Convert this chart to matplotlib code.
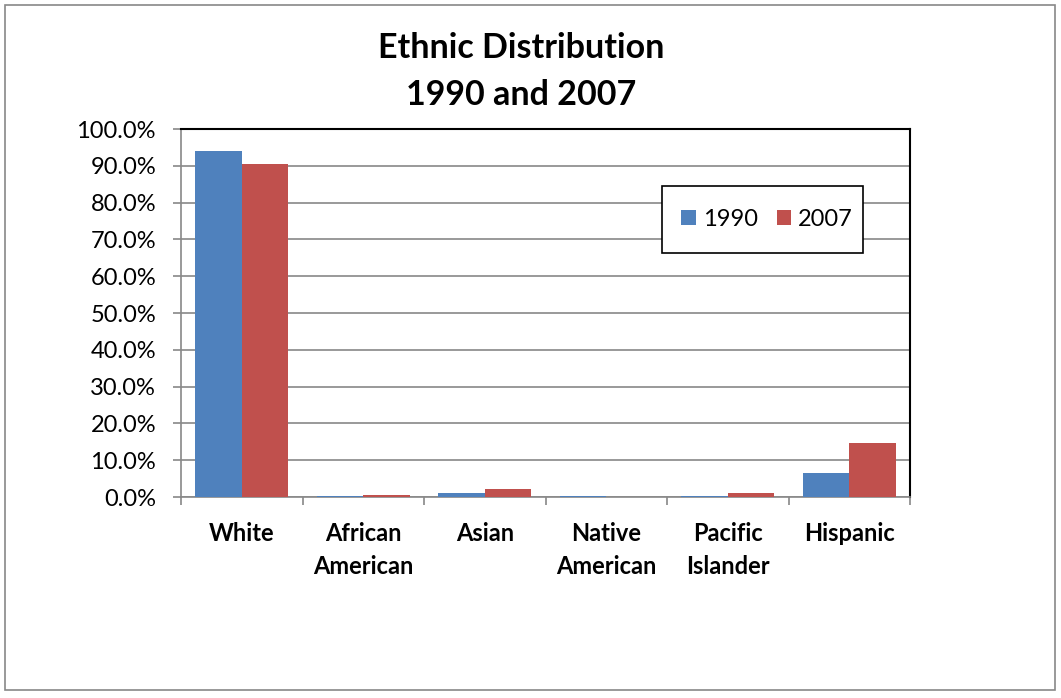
import matplotlib
matplotlib.use("Agg")
import matplotlib.pyplot as plt
import numpy as np
from matplotlib.patches import Rectangle
from matplotlib.ticker import FuncFormatter, MultipleLocator

categories = ["White", "African\nAmerican", "Asian", "Native\nAmerican", "Pacific\nIslander", "Hispanic"]
series_1990 = [94.0, 0.2, 1.2, 0.4, 0.4, 6.4]
series_2007 = [90.5, 0.6, 2.3, 0.1, 1.2, 14.6]
series_names = ["1990", "2007"]
colors = ["#4F81BD", "#C0504D"]

plt.rcParams['font.family'] = ['Lato', 'DejaVu Sans']

fig = plt.figure(figsize=(10.61, 6.98), dpi=100)
fig.patches.append(Rectangle((5/1061, 8/698), 1050/1061, 685/698, transform=fig.transFigure,
                             fill=False, edgecolor="#888888", linewidth=1.2))

ax = fig.add_axes([181/1061, 1-497/698, (910-181)/1061, (497-129)/698])
x = np.arange(len(categories))
w = 0.383
ax.bar(x - w/2, series_1990, w, color=colors[0], label=series_names[0], zorder=3)
ax.bar(x + w/2, series_2007, w, color=colors[1], label=series_names[1], zorder=3)

ax.set_xlim(-0.5, len(categories) - 0.5)
ax.set_ylim(0, 100)
ax.yaxis.set_major_locator(MultipleLocator(10))
ax.yaxis.set_major_formatter(FuncFormatter(lambda v, p: f"{v:.1f}%"))
ax.grid(axis="y", color="#888888", linewidth=1.2, zorder=0)
ax.set_xticks(x)
ax.set_xticklabels(categories, fontsize=17, fontweight="bold", linespacing=1.55)
ax.set_xticks(np.arange(len(categories) + 1) - 0.5, minor=True)
ax.tick_params(axis="x", which="major", length=0, pad=18)
ax.tick_params(axis="x", which="minor", length=6, color="#888888", width=1.2)
ax.tick_params(axis="y", length=6, color="#888888", width=1.2, labelsize=17, pad=12)
ax.spines["left"].set_color("#888888")
ax.spines["bottom"].set_color("#888888")
ax.spines["left"].set_linewidth(1.2)
ax.spines["bottom"].set_linewidth(1.2)
ax.spines["top"].set_color("black")
ax.spines["right"].set_color("black")
ax.spines["top"].set_linewidth(1.5)
ax.spines["right"].set_linewidth(1.5)

fig.text(521/1061, 1-48/698, "Ethnic Distribution", ha="center", va="center", fontsize=24.5, fontweight="bold")
fig.text(521/1061, 1-95/698, "1990 and 2007", ha="center", va="center", fontsize=24.5, fontweight="bold")

# legend box frame
ax.add_patch(Rectangle(((662-181)/729, 1-(253-129)/368), (863-662)/729, (253-186)/368,
                       transform=ax.transAxes, facecolor="white", edgecolor="black",
                       linewidth=1.2, zorder=5))
leg = ax.legend(loc="center", bbox_to_anchor=((767-181)/729, 1-(219-129)/368),
                ncol=2, fontsize=17, frameon=False,
                handlelength=0.6, handleheight=0.6, handletextpad=0.3, columnspacing=0.8,
                borderaxespad=0, borderpad=0)
leg.set_zorder(6)

fig.savefig("out.png", dpi=100)
